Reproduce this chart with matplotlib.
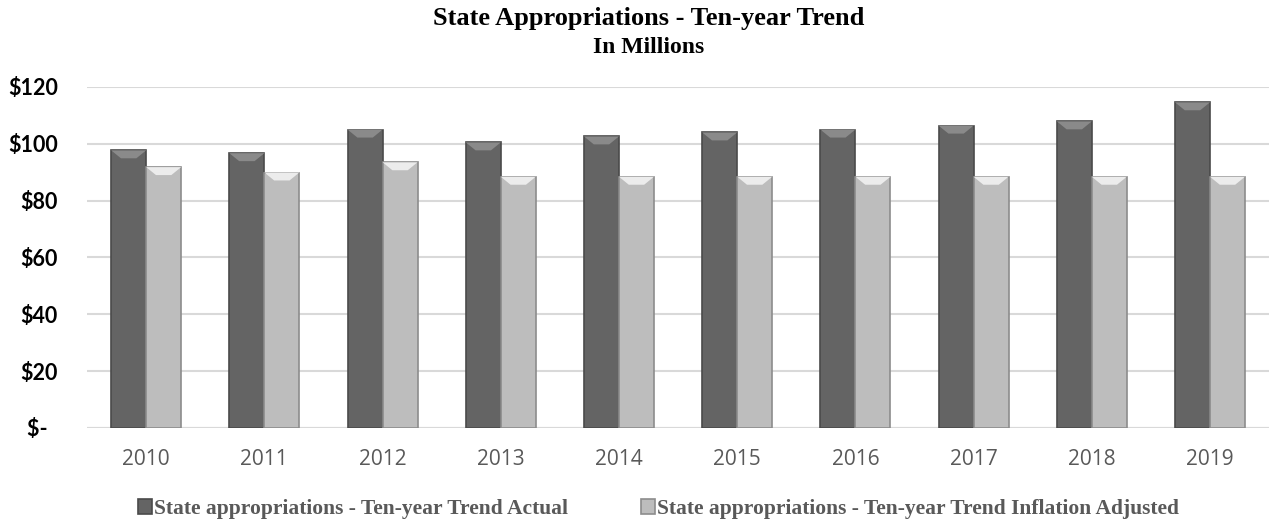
import matplotlib.pyplot as plt
import numpy as np
from matplotlib.patches import Polygon

years = ['2010', '2011', '2012', '2013', '2014', '2015', '2016', '2017', '2018', '2019']
actual = [97.7, 96.7, 105.0, 100.5, 102.6, 104.0, 105.0, 106.4, 107.9, 114.6]
inflation_adj = [91.8, 89.9, 93.5, 88.4, 88.4, 88.4, 88.4, 88.4, 88.4, 88.4]
yticks = [0, 20, 40, 60, 80, 100, 120]
ylabels = ['$-  ', '$20', '$40', '$60', '$80', '$100', '$120']

fig = plt.figure(figsize=(12.71, 5.23), dpi=100)
ax = fig.add_axes([0.0685, 0.1817, 0.93, 0.652])

x = np.arange(len(years))
w = 0.296
b1 = ax.bar(x - w / 2, actual, w, color='#646464', edgecolor='#4a4a4a', linewidth=1.2,
            label='State appropriations - Ten-year Trend Actual', zorder=3)
b2 = ax.bar(x + w / 2, inflation_adj, w, color='#bdbdbd', edgecolor='#8c8c8c', linewidth=1.2,
            label='State appropriations - Ten-year Trend Inflation Adjusted', zorder=3)

# bevel highlight at the top of each bar
for bars, top_col in ((b1, '#8a8a8a'), (b2, '#ececec')):
    for r in bars:
        x0, bw, h = r.get_x(), r.get_width(), r.get_height()
        d = 2.8
        inset = bw * 0.28
        poly = Polygon([(x0, h), (x0 + bw, h), (x0 + bw - inset, h - d), (x0 + inset, h - d)],
                       closed=True, facecolor=top_col, edgecolor='none', zorder=4)
        ax.add_patch(poly)

ax.set_xlim(-0.5, len(years) - 0.5)
ax.set_ylim(0, 120)
ax.set_yticks(yticks)
ax.set_yticklabels(ylabels, fontfamily='Lato', fontweight='bold', fontsize=15.5, color='black')
ax.set_xticks(x)
ax.set_xticklabels(years, fontfamily='Open Sans', fontsize=15, color='#595959')
ax.tick_params(length=0, axis='y', pad=21)
ax.tick_params(length=0, axis='x', pad=15)
ax.grid(axis='y', color='#d9d9d9', linewidth=1.5, zorder=0)
ax.set_axisbelow(True)
for s in ax.spines.values():
    s.set_visible(False)
ax.axhline(0, color='#d9d9d9', linewidth=1.5, zorder=2)

fig.text(0.51, 0.952, 'State Appropriations - Ten-year Trend', ha='center', va='baseline',
         fontfamily='Liberation Serif', fontweight='bold', fontsize=19)
fig.text(0.51, 0.899, 'In Millions', ha='center', va='baseline',
         fontfamily='Liberation Serif', fontweight='bold', fontsize=17)

leg = fig.legend(handles=[b1, b2], loc='center left', bbox_to_anchor=(0.0999, 0.027), ncol=2,
                 frameon=False, borderpad=0, handlelength=0.65, handleheight=0.65, handletextpad=0.1,
                 columnspacing=3.4, prop={'family': 'Liberation Serif', 'weight': 'bold', 'size': 15.5})
for t in leg.get_texts():
    t.set_color('#595959')

fig.savefig('out.png', dpi=100)
